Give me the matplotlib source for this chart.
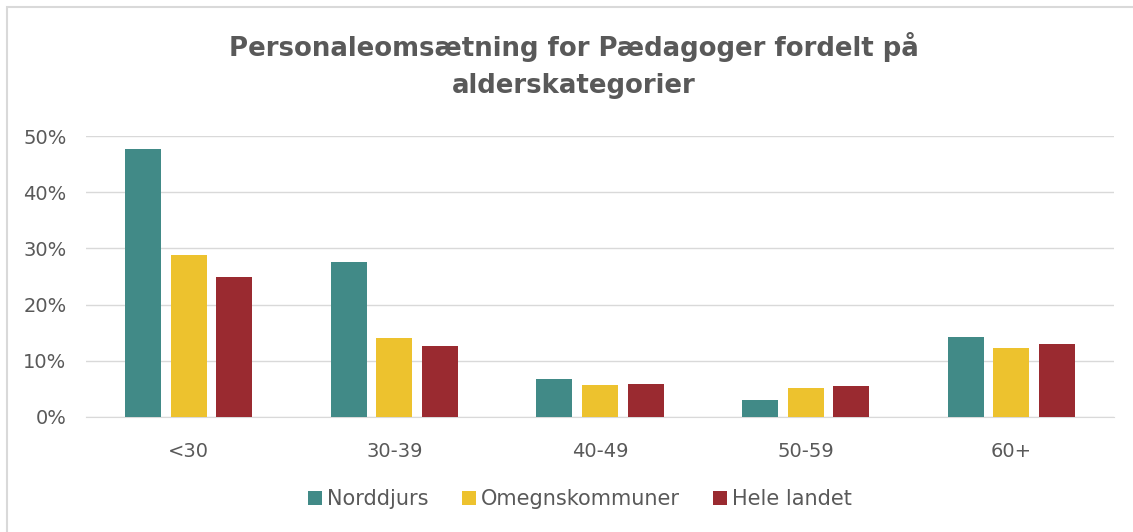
import matplotlib
matplotlib.use("Agg")
import matplotlib.pyplot as plt
from matplotlib.patches import Rectangle
import numpy as np

categories = ["<30", "30-39", "40-49", "50-59", "60+"]
series_names = ["Norddjurs", "Omegnskommuner", "Hele landet"]
norddjurs = [47.6, 27.5, 6.8, 3.0, 14.2]
omegn = [28.9, 14.1, 5.7, 5.2, 12.3]
hele = [25.0, 12.7, 5.9, 5.5, 13.0]
colors = ["#418A87", "#EDC22E", "#9A2A30"]
yticks = [0, 10, 20, 30, 40, 50]

plt.rcParams['font.family'] = ['DejaVu Sans Condensed', 'DejaVu Sans']
txt = "#595959"

fig = plt.figure(figsize=(11.33, 5.32), dpi=100)
fig.patches.append(Rectangle((7/1133, -0.1), 1.2, (532-7)/532 + 0.1, transform=fig.transFigure,
                             fill=False, edgecolor="#D9D9D9", linewidth=1.5))
ax = fig.add_axes([86/1133, 1-417/532, (1114-86)/1133, (417-136)/532])

x = np.arange(len(categories))
w = 0.175
step = 0.222
for i, (vals, name) in enumerate(zip([norddjurs, omegn, hele], series_names)):
    ax.bar(x + (i-1)*step, vals, width=w, color=colors[i], label=name, zorder=3)

ax.set_xlim(-0.5, len(categories)-0.5)
ax.set_ylim(0, 50)
ax.set_yticks(yticks)
ax.set_yticklabels([f"{t}%" for t in yticks], fontsize=14, color=txt)
ax.set_xticks(x)
ax.set_xticklabels(categories, fontsize=14, color=txt)
ax.tick_params(axis='y', length=0, pad=14)
ax.tick_params(axis='x', length=0, pad=18)
ax.grid(axis='y', color="#D9D9D9", linewidth=1, zorder=0)
for s in ["top", "right", "left"]:
    ax.spines[s].set_visible(False)
ax.spines["bottom"].set_color("#D9D9D9")

tx = 574/1133
fig.text(tx, 1-47/532, "Personaleomsætning for Pædagoger fordelt på", ha="center", va="center",
         fontsize=18.7, fontweight="bold", color=txt)
fig.text(tx, 1-86/532, "alderskategorier", ha="center", va="center",
         fontsize=18.7, fontweight="bold", color=txt)

leg = fig.legend(loc="center", bbox_to_anchor=(580/1133, 1-499/532), ncol=3, frameon=False,
                 fontsize=15, handlelength=0.67, handleheight=0.67, handletextpad=0.25,
                 columnspacing=1.6, labelcolor=txt)

fig.savefig("out.png", dpi=100, facecolor="white")
